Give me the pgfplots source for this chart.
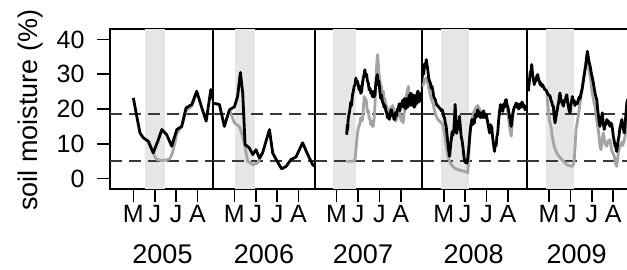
\documentclass[border=0pt]{standalone}
\usepackage{fontspec}
\setmainfont{Liberation Sans}
\usepackage{pgfplots}
\pgfplotsset{compat=1.18}
\definecolor{band}{HTML}{E6E6E6}
\definecolor{gline}{HTML}{A4A4A4}
\definecolor{dline}{HTML}{383838}
\pgfplotsset{
 panel/.style={
  scale only axis, height=160pt, ymin=-3, ymax=43,
  axis line style={line width=2pt},
  xtick={5,6,7,8}, xticklabels={M,J,J,A}, tick pos=left,
  tick align=outside, major tick length=13pt,
  tick style={line width=1.5pt, black},
  ticklabel style={font=\fontsize{25}{30}\selectfont},
  yticklabel style={xshift=-9pt},
  /pgf/number format/assume math mode=true,
  anchor=south west,
 },
 blk/.style={black, line width=2.8pt, line join=round},
 gry/.style={gline, line width=2.8pt, line join=round},
 dsh/.style={dline, line width=1.6pt, dash pattern=on 12pt off 7pt},
}
\begin{document}
\begin{tikzpicture}
\path[use as bounding box] (0,0) rectangle (627pt,270pt);
% ---------------- 2005
\begin{axis}[panel, at={(110pt,81pt)}, width=103pt, xmin=3.91, xmax=8.72, ytick={0,10,20,30,40}]
\addplot[fill=band, draw=none] coordinates {(5.55,-3)(5.55,43)(6.48,43)(6.48,-3)} -- cycle;
\addplot[dsh] coordinates {(3.91,18.6)(8.72,18.6)};
\addplot[dsh] coordinates {(3.91,5)(8.72,5)};
\addplot[gry] coordinates {(5.70,10.7)(5.93,7.4)(6.01,6.2)(6.10,5.5)(6.30,5.2)(6.55,5.3)(6.72,5.8)(6.83,7.5)(6.95,10.5)(7.03,13.0)(7.26,15.0)(7.46,19.5)(7.73,20.8)(7.96,24.8)};
\addplot[blk] coordinates {(5.00,23.2)(5.16,17.9)(5.31,13.1)(5.47,11.7)(5.70,10.7)(5.93,7.4)(6.17,11.2)(6.33,14.1)(6.56,12.6)(6.79,9.3)(7.03,14.1)(7.26,15.0)(7.46,20.3)(7.73,21.3)(7.96,25.1)(8.20,20.3)(8.40,16.5)(8.62,25.6)(8.75,22.0)};
\end{axis}
% ---------------- 2006
\begin{axis}[panel, at={(213pt,81pt)}, width=102pt, xmin=4.0, xmax=8.77, ytick=\empty]
\addplot[fill=band, draw=none] coordinates {(5.03,-3)(5.03,43)(5.98,43)(5.98,-3)} -- cycle;
\addplot[dsh] coordinates {(4.0,18.6)(8.77,18.6)};
\addplot[dsh] coordinates {(4.0,5)(8.77,5)};
\addplot[gry] coordinates {(4.77,19.8)(5.00,16.0)(5.23,15.0)(5.39,12.2)(5.55,7.4)(5.62,5.0)(5.86,4.0)(6.09,4.5)(6.32,7.4)};
\addplot[blk] coordinates {(3.99,21.7)(4.30,21.3)(4.53,15.0)(4.77,19.8)(5.00,20.6)(5.15,23.6)(5.28,30.5)(5.39,24.6)(5.50,9.8)(5.70,8.8)(5.86,6.9)(6.01,8.3)(6.17,5.9)(6.32,7.4)(6.64,14.1)(6.79,7.4)(6.95,5.5)(7.21,2.8)(7.42,3.5)(7.65,5.5)(7.88,6.2)(8.19,10.3)(8.43,6.9)(8.66,4.0)(8.77,3.5)};
\end{axis}
% ---------------- 2007
\begin{axis}[panel, at={(315pt,81pt)}, width=107pt, xmin=3.99, xmax=8.99, ytick=\empty]
\addplot[fill=band, draw=none] coordinates {(4.84,-3)(4.84,43)(5.89,43)(5.89,-3)} -- cycle;
\addplot[dsh] coordinates {(3.99,18.6)(8.99,18.6)};
\addplot[dsh] coordinates {(3.99,5)(8.99,5)};
\addplot[gry] coordinates {(5.47,5.0)(5.60,5.0)(5.75,5.0)(5.86,5.3)(5.90,8.0)(5.93,10.3)(5.97,12.5)(6.01,14.5)(6.05,15.0)(6.09,16.0)(6.13,17.5)(6.17,16.5)(6.21,17.0)(6.25,20.0)(6.29,23.6)(6.33,22.0)(6.36,23.0)(6.40,21.7)(6.44,19.0)(6.48,19.5)(6.52,17.5)(6.56,17.0)(6.60,15.5)(6.64,16.5)(6.68,15.0)(6.71,15.0)(6.75,17.0)(6.79,20.8)(6.83,27.0)(6.87,32.3)(6.91,35.6)(6.94,34.0)(6.98,30.0)(7.02,28.4)(7.06,26.0)(7.10,26.5)(7.14,24.0)(7.18,25.1)(7.22,22.5)(7.26,23.0)(7.30,21.0)(7.34,20.8)(7.38,19.0)(7.42,20.0)(7.46,18.5)(7.49,18.9)(7.53,20.5)(7.57,19.5)(7.61,21.0)(7.64,20.8)(7.68,18.5)(7.72,18.0)(7.76,16.5)(7.80,17.0)(7.84,19.0)(7.88,18.0)(7.92,19.5)(7.96,18.9)(8.00,17.0)(8.04,16.5)(8.08,18.0)(8.11,16.0)(8.15,18.5)(8.19,20.0)(8.22,20.8)(8.26,24.0)(8.30,25.0)(8.35,26.5)(8.39,24.0)(8.43,22.7)(8.46,24.0)(8.50,24.5)(8.54,21.5)(8.58,23.5)(8.62,21.0)(8.66,21.5)(8.70,23.5)(8.74,22.0)(8.78,24.5)(8.81,24.5)(8.85,22.5)(8.89,23.0)(8.93,24.0)(8.97,23.5)(9.01,24.0)};
\addplot[blk] coordinates {(5.47,12.6)(5.50,15.5)(5.52,14.0)(5.54,17.0)(5.58,18.5)(5.62,19.8)(5.66,22.0)(5.70,21.0)(5.74,24.0)(5.78,25.1)(5.82,26.5)(5.86,27.0)(5.90,28.9)(5.94,27.5)(5.97,28.0)(6.01,27.0)(6.05,25.5)(6.09,26.5)(6.13,24.5)(6.17,25.1)(6.21,27.5)(6.25,29.0)(6.29,30.0)(6.32,31.3)(6.36,29.5)(6.40,30.0)(6.44,28.0)(6.48,27.5)(6.52,25.5)(6.56,26.0)(6.60,24.5)(6.64,25.1)(6.68,23.5)(6.72,25.0)(6.75,23.5)(6.79,24.1)(6.83,27.0)(6.87,29.0)(6.90,29.9)(6.94,27.0)(6.98,28.0)(7.02,25.1)(7.06,23.0)(7.10,24.0)(7.14,22.0)(7.18,21.7)(7.22,20.5)(7.26,21.0)(7.30,19.5)(7.34,18.9)(7.38,17.5)(7.42,18.5)(7.46,17.0)(7.50,18.0)(7.53,19.5)(7.57,19.8)(7.61,18.0)(7.65,18.5)(7.68,17.0)(7.72,17.0)(7.76,19.0)(7.80,18.0)(7.84,20.0)(7.88,19.8)(7.92,21.5)(7.96,19.5)(8.00,21.5)(8.04,20.8)(8.08,22.5)(8.12,20.5)(8.16,23.0)(8.19,22.2)(8.23,20.0)(8.27,23.0)(8.31,20.5)(8.35,21.7)(8.39,24.0)(8.43,21.0)(8.46,24.5)(8.50,24.1)(8.54,21.0)(8.58,24.0)(8.62,20.5)(8.66,20.8)(8.70,24.0)(8.74,21.5)(8.78,25.0)(8.81,25.1)(8.85,22.0)(8.89,22.7)(8.93,24.5)(8.97,23.0)(9.01,24.0)};
\end{axis}
% ---------------- 2008
\begin{axis}[panel, at={(422pt,81pt)}, width=105pt, xmin=3.98, xmax=8.89, ytick=\empty]
\addplot[fill=band, draw=none] coordinates {(4.85,-3)(4.85,43)(6.2,43)(6.2,-3)} -- cycle;
\addplot[dsh] coordinates {(3.98,18.6)(8.89,18.6)};
\addplot[dsh] coordinates {(3.98,5)(8.89,5)};
\addplot[gry] coordinates {(3.98,26.5)(4.05,27.0)(4.12,28.5)(4.18,29.0)(4.25,27.5)(4.33,25.0)(4.41,23.0)(4.49,21.7)(4.57,19.5)(4.64,18.0)(4.72,17.0)(4.80,16.5)(4.88,16.0)(4.95,15.5)(5.03,13.0)(5.11,9.5)(5.19,6.4)(5.27,5.0)(5.35,4.0)(5.42,3.5)(5.50,3.0)(5.65,2.6)(5.80,2.3)(5.97,2.1)(6.05,1.9)(6.12,1.6)(6.16,6.0)(6.20,11.2)(6.24,14.0)(6.31,17.0)(6.39,19.0)(6.43,19.5)(6.51,20.5)(6.59,21.0)(6.67,20.0)(6.75,19.0)(6.83,18.0)(6.90,18.4)};
\addplot[gry] coordinates {(7.92,22.7)(8.00,19.0)(8.07,15.0)(8.15,12.2)(8.22,17.0)(8.26,19.8)};
\addplot[blk] coordinates {(3.98,28.5)(4.02,31.3)(4.06,30.0)(4.10,33.0)(4.14,32.0)(4.18,34.2)(4.22,32.5)(4.25,31.3)(4.29,29.0)(4.33,28.0)(4.37,27.5)(4.41,26.0)(4.45,26.5)(4.49,25.1)(4.53,23.5)(4.57,23.0)(4.61,22.5)(4.64,21.7)(4.68,21.0)(4.72,21.0)(4.76,20.5)(4.80,20.3)(4.84,20.0)(4.88,19.5)(4.92,19.8)(4.95,19.3)(4.99,18.0)(5.03,17.5)(5.07,16.0)(5.11,15.0)(5.15,12.5)(5.19,10.3)(5.23,8.0)(5.27,6.4)(5.31,9.0)(5.35,11.2)(5.39,13.5)(5.43,12.5)(5.47,14.1)(5.50,17.5)(5.53,21.3)(5.57,16.0)(5.60,13.0)(5.63,14.1)(5.67,16.5)(5.70,15.5)(5.73,17.9)(5.77,15.0)(5.81,12.2)(5.85,11.0)(5.89,9.3)(5.93,7.0)(5.97,5.0)(6.01,4.7)(6.05,4.5)(6.09,4.5)(6.13,6.5)(6.17,9.0)(6.20,11.2)(6.24,14.0)(6.27,15.5)(6.31,17.0)(6.35,15.5)(6.39,17.0)(6.43,16.0)(6.47,18.5)(6.51,17.5)(6.55,19.0)(6.59,19.8)(6.63,18.0)(6.67,19.0)(6.71,17.5)(6.75,17.9)(6.79,19.0)(6.83,17.5)(6.86,19.5)(6.90,18.4)(6.94,17.5)(6.98,18.5)(7.03,17.0)(7.07,15.5)(7.10,14.5)(7.14,13.1)(7.18,15.5)(7.21,14.0)(7.24,15.0)(7.28,12.0)(7.32,10.0)(7.37,7.8)(7.41,10.0)(7.45,9.5)(7.48,12.0)(7.52,13.1)(7.56,16.5)(7.60,19.0)(7.65,21.3)(7.69,19.5)(7.72,21.0)(7.76,19.3)(7.80,21.5)(7.84,20.5)(7.88,22.5)(7.92,22.7)(7.96,21.0)(8.00,20.5)(8.04,19.0)(8.07,17.9)(8.11,16.5)(8.15,15.0)(8.19,17.0)(8.22,18.5)(8.26,19.8)(8.30,20.5)(8.34,21.0)(8.38,21.7)(8.42,20.5)(8.46,21.5)(8.50,20.0)(8.54,20.3)(8.58,21.5)(8.62,20.5)(8.65,22.0)(8.69,21.7)(8.73,20.5)(8.77,21.0)(8.80,19.8)(8.89,20.5)};
\end{axis}
% ---------------- 2009
\begin{axis}[panel, at={(527pt,81pt)}, width=104pt, xmin=3.97, xmax=8.83, ytick=\empty]
\addplot[fill=band, draw=none] coordinates {(4.85,-3)(4.85,43)(6.17,43)(6.17,-3)} -- cycle;
\addplot[dsh] coordinates {(3.97,18.6)(8.83,18.6)};
\addplot[dsh] coordinates {(3.97,5)(8.83,5)};
\addplot[gry] coordinates {(4.89,25.1)(4.93,22.0)(4.97,18.9)(5.03,16.5)(5.09,15.0)(5.14,12.5)(5.20,10.3)(5.28,8.5)(5.36,7.4)(5.45,6.5)(5.52,6.0)(5.59,5.5)(5.70,4.8)(5.83,4.0)(5.95,3.7)(6.06,3.5)(6.14,4.0)(6.18,5.5)(6.22,9.5)(6.26,14.1)(6.30,15.5)(6.34,17.0)(6.40,19.5)(6.45,21.7)(6.50,24.0)(6.55,25.5)(6.60,28.0)(6.65,30.5)(6.71,33.0)(6.75,34.5)(6.79,36.0)(6.83,33.5)(6.87,31.0)(6.92,29.4)(6.97,27.0)(7.02,24.5)(7.07,23.0)(7.11,21.5)(7.15,20.8)(7.20,18.0)(7.25,16.0)(7.30,14.1)(7.35,11.0)(7.39,9.0)(7.43,8.3)(7.47,10.5)(7.50,12.0)(7.54,13.1)(7.58,11.5)(7.62,10.0)(7.66,9.5)(7.70,9.3)(7.74,10.5)(7.78,11.0)(7.82,10.5)(7.85,11.2)(7.89,9.5)(7.93,8.0)(7.97,7.5)(8.01,7.0)(8.05,6.4)(8.09,5.0)(8.12,4.0)(8.16,3.5)(8.20,5.5)(8.24,7.5)(8.28,8.5)(8.32,9.3)(8.36,10.0)(8.40,10.5)(8.44,9.5)(8.47,10.3)(8.52,11.0)(8.56,12.5)(8.60,14.5)(8.64,17.0)(8.70,18.0)};
\addplot[blk] coordinates {(4.03,25.1)(4.08,28.0)(4.12,30.5)(4.16,31.0)(4.19,32.8)(4.23,30.0)(4.27,28.5)(4.31,27.0)(4.35,28.5)(4.39,28.0)(4.43,29.5)(4.47,29.9)(4.51,28.5)(4.55,28.0)(4.58,27.0)(4.62,27.5)(4.66,26.5)(4.70,27.0)(4.73,26.5)(4.77,26.0)(4.81,25.5)(4.85,25.5)(4.89,25.1)(4.93,24.5)(4.97,24.0)(5.01,24.0)(5.05,23.6)(5.09,22.5)(5.13,22.0)(5.16,21.0)(5.20,20.8)(5.24,18.0)(5.28,16.0)(5.32,17.5)(5.36,19.0)(5.41,20.8)(5.45,22.0)(5.48,23.5)(5.51,24.6)(5.55,23.0)(5.59,22.0)(5.63,21.5)(5.67,20.8)(5.71,22.5)(5.75,22.0)(5.79,23.5)(5.83,24.1)(5.87,22.0)(5.91,20.5)(5.94,19.5)(5.98,18.9)(6.02,21.0)(6.06,22.5)(6.09,23.6)(6.13,22.0)(6.17,22.5)(6.21,21.0)(6.25,21.7)(6.29,22.0)(6.33,21.5)(6.37,22.7)(6.41,23.5)(6.45,23.0)(6.50,24.6)(6.55,26.0)(6.60,28.0)(6.65,30.0)(6.71,32.3)(6.75,34.5)(6.79,36.6)(6.83,35.0)(6.87,33.5)(6.92,32.3)(6.97,30.5)(7.02,29.0)(7.07,27.5)(7.11,26.0)(7.15,24.5)(7.19,23.5)(7.23,22.7)(7.27,20.0)(7.31,18.0)(7.35,16.0)(7.38,15.0)(7.42,16.5)(7.46,18.0)(7.49,18.9)(7.53,16.0)(7.58,14.1)(7.62,16.0)(7.66,15.5)(7.70,17.0)(7.74,16.0)(7.78,16.5)(7.82,15.5)(7.85,15.0)(7.89,16.0)(7.93,15.5)(7.97,14.0)(8.00,12.2)(8.04,11.0)(8.08,9.5)(8.12,9.0)(8.16,7.8)(8.20,9.5)(8.23,11.0)(8.27,12.2)(8.31,14.5)(8.35,15.5)(8.40,17.0)(8.44,15.0)(8.48,14.0)(8.52,13.1)(8.56,16.0)(8.60,19.0)(8.64,22.0)(8.70,23.0)};
\end{axis}
\node[rotate=90, font=\fontsize{27}{32}\selectfont] at (31pt,160pt) {soil moisture (\%)};
\foreach \x/\y in {162.5/2005, 264/2006, 363/2007, 473.7/2008, 576.7/2009}
  \node[anchor=base, font=\fontsize{27}{32}\selectfont] at (\x pt,6.7pt) {\y};
\end{tikzpicture}
\end{document}
